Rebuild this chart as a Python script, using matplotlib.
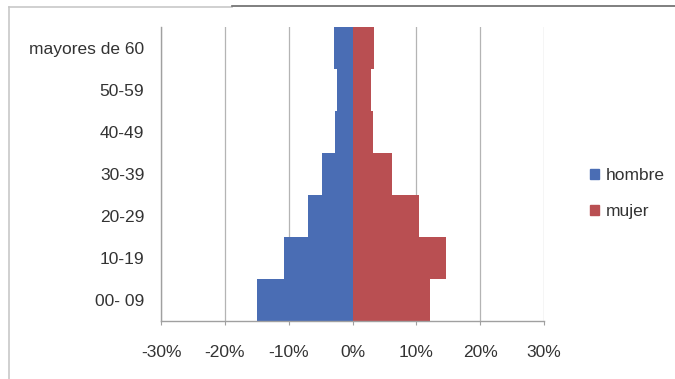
import matplotlib
matplotlib.use("Agg")
import matplotlib.pyplot as plt
from matplotlib.patches import Patch
from matplotlib.lines import Line2D
from matplotlib.ticker import FuncFormatter

plt.rcParams['font.family'] = ['Liberation Sans', 'DejaVu Sans']

# Age groups, bottom to top
grupos = ["00- 09", "10-19", "20-29", "30-39", "40-49", "50-59", "mayores de 60"]
# Share of population per group (%)
hombre = [14.9, 10.8, 6.9, 4.75, 2.75, 2.5, 2.85]
mujer = [12.1, 14.6, 10.4, 6.2, 3.2, 2.9, 3.3]
x_ticks = [-30, -20, -10, 0, 10, 20, 30]

c_hombre = "#4a6db4"
c_mujer = "#b94f52"
c_text = "#333333"
c_grid = "#b4b4b4"

fig = plt.figure(figsize=(6.75, 3.79), dpi=100)
ax = fig.add_axes([161 / 675, 1 - 321 / 379, 383 / 675, 294 / 379])

pos = range(len(grupos))
ax.barh(pos, [-v for v in hombre], height=1.0, color=c_hombre, label="hombre", zorder=2)
ax.barh(pos, mujer, height=1.0, color=c_mujer, label="mujer", zorder=2)

ax.set_xlim(-30, 30)
ax.set_ylim(-0.5, len(grupos) - 0.5)
ax.set_xticks(x_ticks)
ax.xaxis.set_major_formatter(FuncFormatter(lambda v, _: f"{v:.0f}%"))
ax.set_yticks(list(pos))
ax.set_yticklabels(grupos)

ax.xaxis.grid(True, color=c_grid, linewidth=0.9, zorder=0)
ax.set_axisbelow(True)
for s in ("top", "right"):
    ax.spines[s].set_visible(False)
for s in ("left", "bottom"):
    ax.spines[s].set_color("#a0a0a0")
    ax.spines[s].set_linewidth(1.0)

ax.tick_params(axis="x", length=3, color="#a0a0a0", pad=14, labelsize=12.5, labelcolor=c_text)
ax.tick_params(axis="y", length=0, pad=12, labelsize=12.5, labelcolor=c_text)

handles = [Patch(color=c_hombre, label="hombre"), Patch(color=c_mujer, label="mujer")]
fig.legend(handles=handles, loc="center left", bbox_to_anchor=(590 / 675, 1 - 193.5 / 379),
           frameon=False, fontsize=12.5, handlelength=0.5, handleheight=0.5,
           handletextpad=0.4, labelspacing=1.2, borderpad=0, borderaxespad=0,
           labelcolor=c_text)

# Outer frame of the chart area
fig.add_artist(Line2D([9 / 675, 9 / 675], [0, 1 - 7 / 379], color="#c8c8c8", linewidth=1.2))
fig.add_artist(Line2D([9 / 675, 232 / 675], [1 - 7 / 379] * 2, color="#c8c8c8", linewidth=1.2))
fig.add_artist(Line2D([232 / 675, 1], [1 - 6 / 379] * 2, color="#6a6a6a", linewidth=1.2))

fig.savefig("out.png", dpi=100)
